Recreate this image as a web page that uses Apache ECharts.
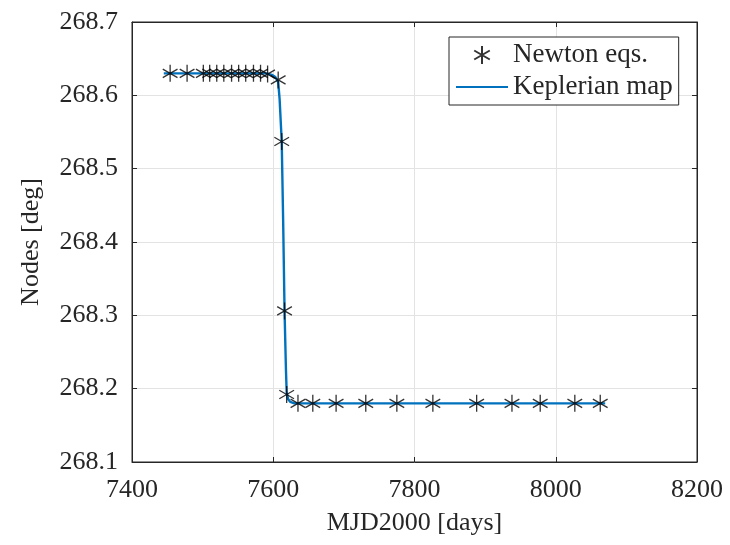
<!DOCTYPE html>
<html>
<head>
<meta charset="utf-8">
<script src="https://cdn.jsdelivr.net/npm/echarts@6/dist/echarts.min.js"></script>
<style>
  html, body { margin: 0; padding: 0; background: #fff; }
  #chart { width: 730px; height: 545px; }
</style>
</head>
<body>
<div id="chart"></div>
<script>
// Node longitude across the close encounter: N-body integration vs Keplerian map
const newtonDays  = [7454, 7478, 7501, 7510, 7520, 7530, 7541, 7551, 7561, 7572, 7582, 7592,
                     7607, 7612, 7616, 7619, 7635, 7656, 7689, 7731, 7775, 7826, 7888, 7938, 7978, 8027, 8063];
const newtonNodes = [268.630, 268.630, 268.630, 268.630, 268.630, 268.630, 268.630, 268.630, 268.630, 268.630, 268.630, 268.629,
                     268.621, 268.537, 268.306, 268.192, 268.180, 268.180, 268.180, 268.180, 268.180, 268.180, 268.180, 268.180, 268.180, 268.180, 268.180];

const keplerDays  = [7445, 7590, 7598, 7603, 7607, 7609, 7612, 7614, 7616, 7618, 7619, 7621, 7624, 7630, 7640, 8070];
const keplerNodes = [268.630, 268.630, 268.628, 268.625, 268.618, 268.595, 268.537, 268.430, 268.306, 268.225, 268.195, 268.186, 268.182, 268.180, 268.180, 268.180];

const xTicks = [7400, 7600, 7800, 8000, 8200];
const yTicks = [268.1, 268.2, 268.3, 268.4, 268.5, 268.6, 268.7];

const ink = '#262626';
const gridGrey = '#e3e3e3';
const blue = '#0072BD';
const font = 'Liberation Serif';
const fs = 26;

// six-armed asterisk marker
const asterisk = 'path://M0,-10L0,10M-8.66,-5L8.66,5M-8.66,5L8.66,-5';

const zip = (a, b) => a.map((v, i) => [v, b[i]]);

const xCommon = {
  type: 'value',
  min: xTicks[0], max: xTicks[xTicks.length - 1], interval: 200
};
const yCommon = {
  type: 'value',
  min: yTicks[0], max: yTicks[yTicks.length - 1], interval: 0.1
};

const chart = echarts.init(document.getElementById('chart'), null, { renderer: 'canvas' });
chart.setOption({
  backgroundColor: '#fff',
  animation: false,
  textStyle: { fontFamily: font, color: ink },
  grid: {
    left: 132, right: 33, top: 22, bottom: 83,
    show: true, borderColor: ink, borderWidth: 1, backgroundColor: '#fff'
  },
  legend: {
    left: 449, top: 37,
    orient: 'vertical',
    backgroundColor: '#fff',
    borderColor: ink, borderWidth: 1, borderRadius: 0,
    padding: [4, 6, 4, 6],
    itemGap: 4,
    itemWidth: 52, itemHeight: 18,
    textStyle: { fontFamily: font, fontSize: 27, color: ink, lineHeight: 28 },
    data: [
      { name: 'Newton eqs.' },
      { name: 'Keplerian map', itemStyle: { opacity: 0 } }
    ]
  },
  xAxis: [
    Object.assign({}, xCommon, {
      position: 'bottom',
      name: 'MJD2000 [days]', nameLocation: 'middle', nameGap: 48,
      nameTextStyle: { fontFamily: font, fontSize: fs, color: ink },
      axisLine: { show: true, lineStyle: { color: ink } },
      axisTick: { show: true, inside: true, length: 5, lineStyle: { color: ink } },
      axisLabel: { fontFamily: font, fontSize: fs, color: ink, margin: 15,
                   formatter: v => String(v) },
      splitLine: { show: true, lineStyle: { color: gridGrey, width: 1 } }
    }),
    Object.assign({}, xCommon, {
      position: 'top',
      axisLine: { show: true, lineStyle: { color: ink } },
      axisTick: { show: true, inside: true, length: 5, lineStyle: { color: ink } },
      axisLabel: { show: false },
      splitLine: { show: false }
    })
  ],
  yAxis: [
    Object.assign({}, yCommon, {
      position: 'left',
      name: 'Nodes [deg]', nameLocation: 'middle', nameGap: 88, nameRotate: 90,
      nameTextStyle: { fontFamily: font, fontSize: fs, color: ink },
      axisLine: { show: true, lineStyle: { color: ink } },
      axisTick: { show: true, inside: true, length: 5, lineStyle: { color: ink } },
      axisLabel: { fontFamily: font, fontSize: fs, color: ink, margin: 14,
                   formatter: v => v.toFixed(1) },
      splitLine: { show: true, lineStyle: { color: gridGrey, width: 1 } }
    }),
    Object.assign({}, yCommon, {
      position: 'right',
      axisLine: { show: true, lineStyle: { color: ink } },
      axisTick: { show: true, inside: true, length: 5, lineStyle: { color: ink } },
      axisLabel: { show: false },
      splitLine: { show: false }
    })
  ],
  series: [
    {
      name: 'Keplerian map',
      type: 'line',
      xAxisIndex: 0, yAxisIndex: 0,
      data: zip(keplerDays, keplerNodes),
      showSymbol: false,
      symbol: 'none',
      lineStyle: { color: blue, width: 2.4 },
      itemStyle: { color: blue },
      z: 2
    },
    {
      name: 'Newton eqs.',
      type: 'scatter',
      xAxisIndex: 0, yAxisIndex: 0,
      data: zip(newtonDays, newtonNodes),
      symbol: asterisk,
      symbolSize: 17,
      symbolKeepAspect: true,
      itemStyle: { color: 'none', borderColor: '#000', borderWidth: 1.3 },
      z: 3
    }
  ]
});
</script>
</body>
</html>
